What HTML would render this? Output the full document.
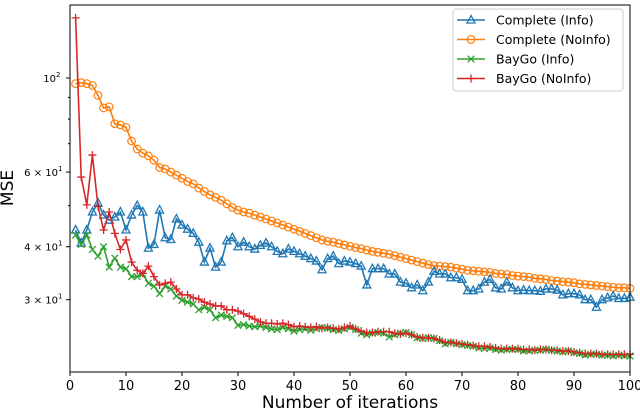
<!DOCTYPE html>
<html><head><meta charset="utf-8"><style>
body{margin:0;background:#fff;}
svg text{font-family:"DejaVu Sans","Liberation Sans",sans-serif;}
</style></head><body>
<svg id="chart" width="640" height="411" viewBox="0 0 640 411" xmlns="http://www.w3.org/2000/svg">
<rect x="0" y="0" width="640" height="411" fill="#fff"/>
<g id="series"></g>
<rect x="70" y="5" width="560" height="367" fill="none" stroke="#000" stroke-width="1"/>
<g id="axes"></g>
<text x="13" y="188" font-size="17" text-anchor="middle" transform="rotate(-90 13 188)">MSE</text>
<text x="350" y="408" font-size="17" text-anchor="middle">Number of iterations</text>
<g id="legend"></g>
</svg>
<script>
const iterations = Array.from({length:100},(_,i)=>i+1);
const completeInfo = [43.8,40.8,43.8,48.3,50.7,47.5,46.2,47,48.3,43.8,47.5,50,48.3,39.7,40.5,48.8,42,41.6,46.5,45,44,43,41,36.8,39.7,35.8,36.8,41.3,42,40,41,40,39.5,40.3,40.8,40,39,38.5,39.5,39,38.5,38,37.5,37,35.3,37.5,38,36.5,37,36.8,36.5,36,32.5,35.5,35.5,35.5,34.5,34.5,33,32.8,32,32.5,31.5,33,35,34.5,34.5,33.8,33.8,33.5,31.5,31.5,31.8,33,33.5,32,31.8,33,32,31.5,31.6,31.5,31.5,31.4,31.8,31.8,31.6,30.8,31,31,30.8,30,30,28.8,30,30.3,30.6,30.2,30.2,30.4];
const completeNoInfo = [97,97.5,97,96,91,85,85.5,78,77.5,76.5,71,68,66.5,65.5,64,61.5,61,60,59,58,57,56.3,55,54,53,52.3,51.5,50.5,49.5,48.8,48.3,48,47.5,47,46.5,46,45.5,45,44.5,44,43.5,43,42.5,42,41.5,41.2,41,40.7,40.4,40.1,39.8,39.6,39.3,39,38.8,38.6,38.4,38.1,37.8,37.5,37.2,36.9,36.6,36.3,36.1,36,35.9,35.8,35.6,35.4,35.2,35.1,35,34.9,34.8,34.6,34.5,34.4,34.2,34.1,34,33.9,33.7,33.6,33.5,33.3,33.2,33.1,33,32.9,32.7,32.6,32.5,32.4,32.3,32.2,32.1,32,32,31.9];
const baygoInfo = [42.6,40.5,42.6,39.4,38,40,35.8,37.6,35.8,35.5,34,34,34.5,32.8,32.3,31,32.3,31.8,30.6,29.9,29.6,29.3,28.4,28.8,28.4,27.2,27.6,27.4,27.2,26.1,26.2,26,25.9,26,25.8,25.6,25.5,25.8,25.6,25.3,25.5,25.6,25.4,25.6,25.8,25.7,25.5,25.4,25.6,25.8,25.5,25,24.8,25,25.1,25,24.5,24.8,25,25.1,24.8,24.4,24.3,24.4,24.3,24,23.6,23.8,23.6,23.5,23.4,23.3,23.1,23,23.1,22.9,22.8,22.9,22.9,22.9,22.7,22.7,22.8,22.8,22.9,22.8,22.7,22.6,22.7,22.5,22.4,22.2,22.3,22.3,22.2,22.2,22.1,22.2,22.1,22.1];
const baygoNoInfo = [138.6,58.4,50.2,65.8,49.8,43.8,48.3,43,39.4,41.5,36.8,35.2,34.6,36,34,32.5,32.8,33,31.8,30.8,30.8,30.3,30.1,29.6,29.3,29,29,28.4,28.4,28.2,27.8,27.4,27,26.6,26.4,26.4,26.3,26.4,26.2,25.9,26,25.9,25.8,25.9,25.7,25.8,25.7,25.6,25.8,26,25.6,25.3,25.1,25.1,25.2,25.2,25.2,25,24.9,25,24.8,24.5,24.4,24.4,24.3,24.1,23.8,23.8,23.7,23.6,23.5,23.4,23.3,23.3,23.2,23.1,23,23,23,23,22.9,22.9,22.8,22.9,22.9,22.8,22.8,22.7,22.7,22.6,22.5,22.4,22.4,22.4,22.3,22.3,22.3,22.3,22.3,22.3];
const xTicks = [0,10,20,30,40,50,60,70,80,90,100];
const yTickValues = [100,60,40,30];
const yTickLabels = ["10","6 × 10","4 × 10","3 × 10"];
const yTickExps = ["2","1","1","1"];
const yMinor = [50,70,80,90];
const legendLabels = ["Complete (Info)","Complete (NoInfo)","BayGo (Info)","BayGo (NoInfo)"];

const NS="http://www.w3.org/2000/svg";
const X=v=>70+v*5.6;
const Y=v=>78+424*(2-Math.log10(v));
function mk(t,a,p){const e=document.createElementNS(NS,t);for(const k in a)e.setAttribute(k,a[k]);p.appendChild(e);return e;}
const sg=document.getElementById('series');
function marker(kind,cx,cy,col,p){
  let e;
  if(kind==='tri'){e=mk('polygon',{points:`${cx},${cy-4.5} ${cx-4},${cy+3} ${cx+4},${cy+3}`,fill:'none',stroke:col,'stroke-width':1.3},p);}
  else if(kind==='circ'){e=mk('circle',{cx:cx,cy:cy,r:3.8,fill:'none',stroke:col,'stroke-width':1.2},p);}
  else if(kind==='x'){e=mk('path',{d:`M${cx-3.3},${cy-3.3}L${cx+3.3},${cy+3.3}M${cx-3.3},${cy+3.3}L${cx+3.3},${cy-3.3}`,stroke:col,'stroke-width':1.3},p);}
  else {e=mk('path',{d:`M${cx-4},${cy}L${cx+4},${cy}M${cx},${cy-4}L${cx},${cy+4}`,stroke:col,'stroke-width':1.3},p);}
  return e;
}
const seriesDefs=[[completeNoInfo,'#ff7f0e','circ','series-complete-noinfo'],[completeInfo,'#1f77b4','tri','series-complete-info'],[baygoInfo,'#2ca02c','x','series-baygo-info'],[baygoNoInfo,'#d62728','plus','series-baygo-noinfo']];
seriesDefs.forEach(([data,col,kind,name])=>{
  const g=mk('g',{},sg);
  
  
  const pl=mk('polyline',{points:data.map((v,i)=>X(iterations[i])+','+Y(v)).join(' '),fill:'none',stroke:col,'stroke-width':1.6},g);
  
  
  data.forEach((v,i)=>{
    const m=marker(kind,X(iterations[i]),Y(v),col,g);
    
    
  });
});
const ax=document.getElementById('axes');
xTicks.forEach(t=>{
  mk('line',{x1:X(t),x2:X(t),y1:372,y2:376,stroke:'#000'},ax);
  const tx=mk('text',{x:X(t),y:390,'font-size':13,'text-anchor':'middle'},ax);
  tx.textContent=t;
  
  
});
yTickValues.forEach((v,i)=>{
  mk('line',{x1:66,x2:70,y1:Y(v),y2:Y(v),stroke:'#000'},ax);
  const tx=mk('text',{x:i===0?56:58,y:Y(v)+4,'font-size':10,'text-anchor':'end'},ax);
  tx.textContent=yTickLabels[i];
  
  
  const ex=mk('text',{x:i===0?56:58,y:Y(v)-1,'font-size':7},ax);
  ex.textContent=yTickExps[i];
  
  
});
yMinor.forEach(v=>mk('line',{x1:68,x2:70,y1:Y(v),y2:Y(v),stroke:'#000'},ax));
const lg=document.getElementById('legend');
mk('rect',{x:453,y:9,width:170,height:82,rx:3,fill:'#fff','fill-opacity':0.85,stroke:'#ccc'},lg);
const legCols=['#1f77b4','#ff7f0e','#2ca02c','#d62728'];
const legKinds=['tri','circ','x','plus'];
legendLabels.forEach((lab,i)=>{
  const y=20+i*19.5;
  const g=mk('g',{},lg);
  
  
  mk('line',{x1:457,x2:485,y1:y,y2:y,stroke:legCols[i],'stroke-width':1.6},g);
  marker(legKinds[i],471,y,legCols[i],g);
  const t=mk('text',{x:496,y:y+4.5,'font-size':12.5},g);
  t.textContent=lab;
});
</script>
</body></html>
